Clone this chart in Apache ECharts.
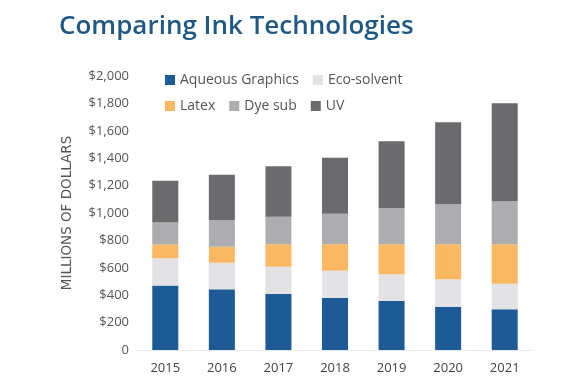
<!DOCTYPE html>
<html><head><meta charset="utf-8">
<script src="https://cdn.jsdelivr.net/npm/echarts@6/dist/echarts.min.js"></script>
<style>html,body{margin:0;padding:0;background:#fff}#c{width:564px;height:386px}</style>
</head><body><div id="c"></div>
<script>
const years = ['2015','2016','2017','2018','2019','2020','2021'];
const aqueous = [470, 443, 409, 380, 358, 316, 297];
const ecoSolvent = [200, 194, 199, 199, 195, 200, 187];
const latex = [100, 117, 164, 193, 219, 256, 288];
const dyeSub = [160, 195, 201, 223, 262, 291, 313];
const uv = [305, 331, 368, 409, 489, 599, 716];
const yTicks = [0, 200, 400, 600, 800, 1000, 1200, 1400, 1600, 1800, 2000];

const font = '"Open Sans", "Noto Sans", sans-serif';
const names = ['Aqueous Graphics','Eco-solvent','Latex','Dye sub','UV'];
const colors = ['#1d5a96','#e3e3e5','#fbb862','#adadaf','#6b6a6c'];
const vals = [aqueous, ecoSolvent, latex, dyeSub, uv];

const chart = echarts.init(document.getElementById('c'));
const legendText = {fontFamily: font, fontSize: 14, color: '#555'};
chart.setOption({
  animation: false,
  color: colors,
  title: {text: 'Comparing Ink Technologies', left: 54, top: 9,
    textStyle: {fontFamily: font, fontSize: 26, fontWeight: 600, color: '#1f5882'}},
  legend: [
    {data: ['Aqueous Graphics','Eco-solvent'], left: 160, top: 68, itemWidth: 10, itemHeight: 10, itemGap: 14, icon: 'rect', textStyle: legendText},
    {data: ['Latex','Dye sub','UV'], left: 160, top: 94, itemWidth: 10, itemHeight: 10, itemGap: 14, icon: 'rect', textStyle: legendText}
  ],
  grid: {left: 137, right: 31, top: 76, bottom: 36},
  xAxis: {type: 'category', data: years,
    axisLine: {lineStyle: {color: '#ececec'}}, axisTick: {show: false},
    axisLabel: {fontFamily: font, fontSize: 13, color: '#444', margin: 12}},
  yAxis: {type: 'value', min: yTicks[0], max: yTicks[yTicks.length-1], interval: 200,
    name: 'MILLIONS OF DOLLARS', nameLocation: 'middle', nameGap: 63, nameRotate: 90,
    nameTextStyle: {fontFamily: '"DejaVu Sans", sans-serif', fontSize: 13.5, color: '#555'},
    splitLine: {show: false}, axisLine: {show: false}, axisTick: {show: false},
    axisLabel: {fontFamily: font, fontSize: 13, color: '#555', margin: 8,
      formatter: v => v === 0 ? '0' : '$' + v.toLocaleString('en-US')}},
  series: names.map((n, i) => ({name: n, type: 'bar', stack: 'total', barWidth: '46%',
    data: vals[i], itemStyle: {color: colors[i]}}))
});
</script></body></html>
